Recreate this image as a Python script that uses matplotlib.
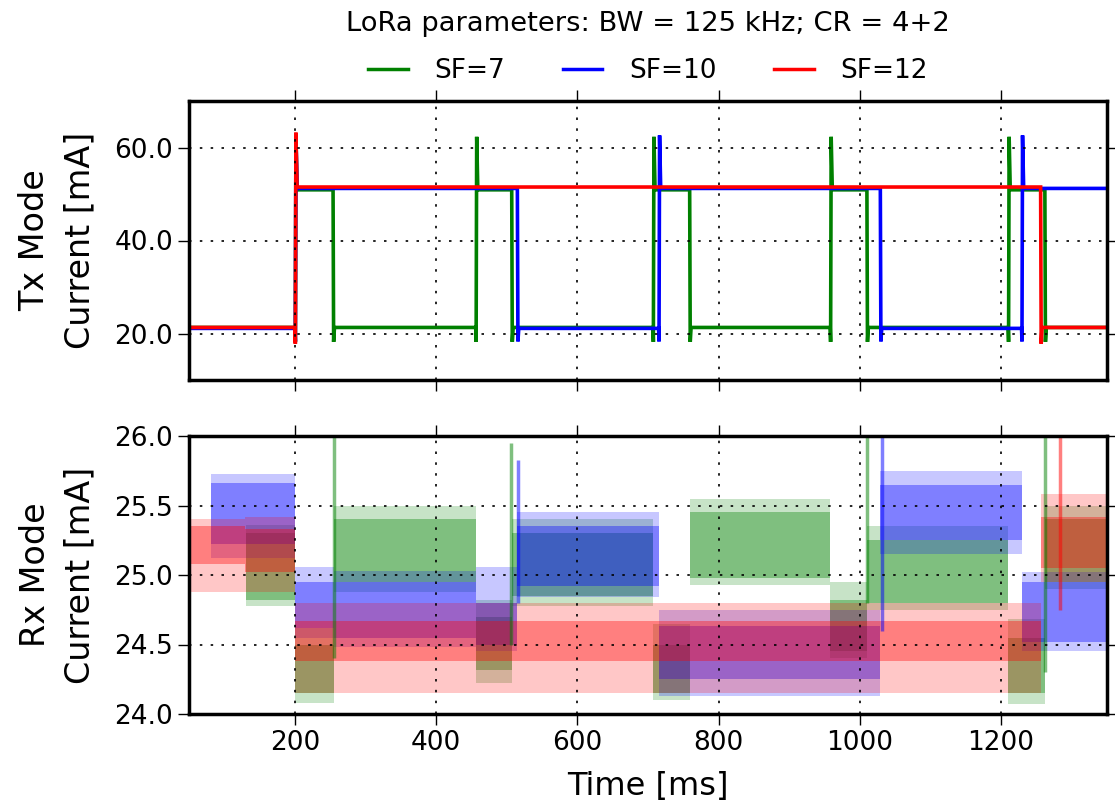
import numpy as np
import matplotlib
matplotlib.use("Agg")
import matplotlib.pyplot as plt
from matplotlib.ticker import FormatStrFormatter

# ---------------- data ----------------
series_names = ["SF=7", "SF=10", "SF=12"]
series_colors = ["g", "b", "r"]

# Tx mode: switching instants [ms] (rise, fall, rise, ...) and levels [mA]
tx_green_edges = [200, 254, 456, 507, 707, 759, 958, 1010, 1210, 1262]
tx_blue_edges = [200, 515, 715, 1029, 1229]
tx_red_edges = [200, 1256]
tx_low = [21.3, 21.1, 21.3]
tx_high = [50.9, 51.2, 51.5]
tx_peak = [62.3, 62.6, 63.2]
tx_dip = [18.2, 18.3, 17.8]

# Rx mode: segment boundaries [ms] and current band per segment [mA]
rx_green_t = [131, 200, 255, 456, 507, 707, 759, 958, 1010, 1210, 1262, 1350]
rx_green_lo = [24.82, 24.15, 24.95, 24.32, 24.85, 24.15, 24.98, 24.45, 24.80, 24.15, 24.95]
rx_green_hi = [25.30, 24.50, 25.40, 24.70, 25.30, 24.50, 25.45, 24.82, 25.25, 24.55, 25.40]
rx_green_min = [24.78, 24.08, 24.88, 24.22, 24.78, 24.10, 24.93, 24.40, 24.75, 24.07, 24.90]
rx_green_max = [25.36, 24.62, 25.50, 24.82, 25.40, 24.65, 25.55, 24.95, 25.35, 24.68, 25.50]

rx_blue_t = [81, 200, 255, 456, 515, 715, 1029, 1229, 1350]
rx_blue_lo = [25.22, 24.62, 24.55, 24.50, 24.92, 24.25, 25.25, 24.52]
rx_blue_hi = [25.66, 24.95, 24.95, 24.80, 25.35, 24.63, 25.65, 24.95]
rx_blue_min = [25.12, 24.55, 24.48, 24.45, 24.84, 24.13, 25.15, 24.45]
rx_blue_max = [25.73, 25.06, 25.03, 25.06, 25.45, 24.75, 25.75, 25.02]

rx_red_t = [50, 130, 200, 1256, 1350]
rx_red_lo = [25.08, 25.02, 24.38, 25.05]
rx_red_hi = [25.35, 25.33, 24.67, 25.42]
rx_red_min = [24.88, 24.88, 24.15, 24.95]
rx_red_max = [25.40, 25.42, 24.80, 25.58]

# Rx transient spikes: (time, bottom, top)
rx_green_spikes = [(255, 24.40, 26.0), (506, 24.50, 25.95), (1010, 24.80, 26.0), (1262, 24.30, 26.0)]
rx_blue_spikes = [(516, 24.80, 25.83), (1031, 24.60, 26.0)]
rx_red_spikes = [(1283, 24.75, 26.0)]

x_ticks = [200, 400, 600, 800, 1000, 1200]
tx_yticks = [20, 40, 60]
rx_yticks = [24.0, 24.5, 25.0, 25.5, 26.0]
legend_title = "LoRa parameters: BW = 125 kHz; CR = 4+2"

# ---------------- figure ----------------
plt.rcParams["font.family"] = ["DejaVu Sans"]
fig = plt.figure(figsize=(11.15, 8.07), dpi=100)
left, right = 189 / 1115, 1107 / 1115
ax1 = fig.add_axes([left, 1 - 380 / 807, right - left, (380 - 101) / 807])
ax2 = fig.add_axes([left, 1 - 714 / 807, right - left, (714 - 436) / 807], sharex=ax1)


def tx_path(edges, low, high, peak, dip, t0=50, t1=1350):
    t, v = [t0], [low]
    state = low
    for i, e in enumerate(edges):
        if i % 2 == 0:
            t += [e, e + 0.6, e + 1.4, e + 3.0]
            v += [low, dip, peak, high]
            state = high
        else:
            t += [e, e + 0.8, e + 2.0]
            v += [high, dip, low]
            state = low
    t.append(t1)
    v.append(state)
    return t, v


tx_edges = [tx_green_edges, tx_blue_edges, tx_red_edges]
handles = []
for k in range(3):
    t, v = tx_path(tx_edges[k], tx_low[k], tx_high[k], tx_peak[k], tx_dip[k])
    h, = ax1.plot(t, v, color=series_colors[k], lw=2.6, label=series_names[k],
                  solid_joinstyle="miter")
    handles.append(h)

rx_data = [
    (rx_green_t, rx_green_lo, rx_green_hi, rx_green_min, rx_green_max, rx_green_spikes),
    (rx_blue_t, rx_blue_lo, rx_blue_hi, rx_blue_min, rx_blue_max, rx_blue_spikes),
    (rx_red_t, rx_red_lo, rx_red_hi, rx_red_min, rx_red_max, rx_red_spikes),
]
for k, (tt, lo, hi, mn, mx, spikes) in enumerate(rx_data):
    c = series_colors[k]
    tt = np.array(tt, float)
    lo_s = np.append(lo, lo[-1])
    hi_s = np.append(hi, hi[-1])
    mn_s = np.append(mn, mn[-1])
    mx_s = np.append(mx, mx[-1])
    ax2.fill_between(tt, mn_s, lo_s, step="post", color=c, alpha=0.22, lw=0)
    ax2.fill_between(tt, hi_s, mx_s, step="post", color=c, alpha=0.22, lw=0)
    ax2.fill_between(tt, lo_s, hi_s, step="post", color=c, alpha=0.5, lw=0)
    for (ts, b, top) in spikes:
        ax2.vlines(ts, b, top, color=c, alpha=0.5, lw=2.5)

for ax in (ax1, ax2):
    ax.set_xlim(50, 1350)
    ax.grid(True, color="k", linestyle=(0, (1.5, 5)), linewidth=1.2)
    ax.set_axisbelow(False)
    for s in ax.spines.values():
        s.set_linewidth(2.5)
    ax.tick_params(which="both", direction="out", length=8, width=1,
                   top=True, right=True, labelsize=19)
    ax.set_xticks(x_ticks)

ax1.set_ylim(10, 70)
ax1.set_yticks(tx_yticks)
ax1.yaxis.set_major_formatter(FormatStrFormatter("%.1f"))
ax1.tick_params(labelbottom=False)
ax2.set_ylim(24, 26)
ax2.set_yticks(rx_yticks)
ax2.yaxis.set_major_formatter(FormatStrFormatter("%.1f"))

ax1.set_ylabel("Tx Mode\nCurrent [mA]", fontsize=24, labelpad=13, linespacing=1.45)
ax2.set_ylabel("Rx Mode\nCurrent [mA]", fontsize=24, labelpad=13, linespacing=1.45)
ax2.set_xlabel("Time [ms]", fontsize=23, labelpad=11)
fig.align_ylabels([ax1, ax2])

leg = ax1.legend(handles=handles, loc="lower center", bbox_to_anchor=(0.5, 1.005),
                 ncol=3, frameon=False, fontsize=19, title=legend_title,
                 title_fontsize=19.7, handlelength=1.5, handletextpad=1.0,
                 columnspacing=2.2, borderaxespad=0.2, labelspacing=0.8)
for line in leg.get_lines():
    line.set_linewidth(2.5)

fig.savefig("out.png", dpi=100)
